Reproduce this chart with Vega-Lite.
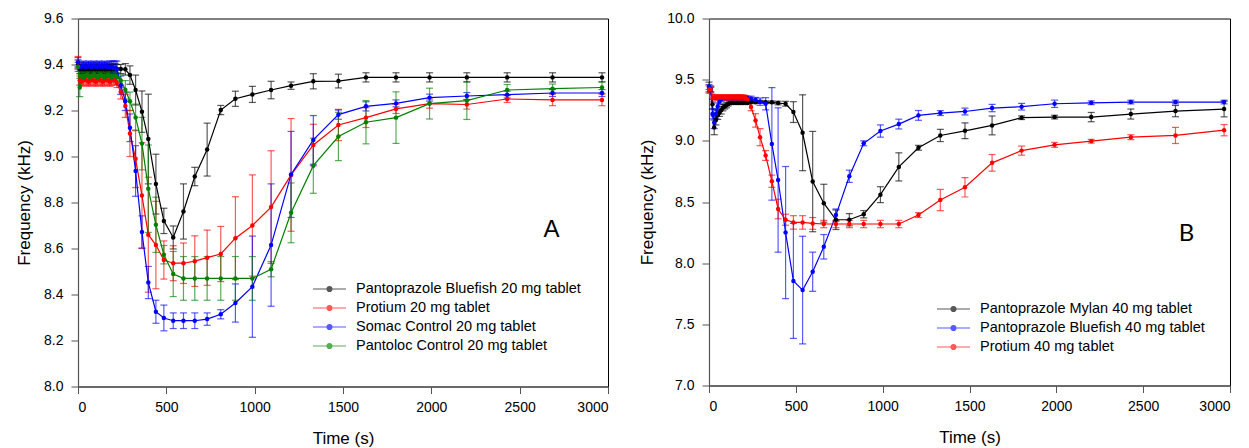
{
  "$schema": "https://vega.github.io/schema/vega-lite/v6.json",
  "padding": {"left": 15, "top": 10.5, "right": 0, "bottom": 0},
  "spacing": 29,
  "config": {
    "font": "Liberation Sans",
    "view": {"stroke": "#000", "strokeWidth": 1},
    "axis": {"grid": false, "domainColor": "#555", "domainWidth": 1.2, "tickColor": "#555", "tickSize": 7, "labelFontSize": 14, "titleFontSize": 17, "titleFontWeight": "normal", "labelColor": "#000", "titleColor": "#000"},
    "axisX": {"labelPadding": 7, "titlePadding": 16},
    "axisY": {"labelPadding": 8, "titlePadding": 10},
    "legend": {"orient": "none", "title": null, "labelFontSize": 14.5, "labelColor": "#000", "labelLimit": 0, "symbolType": "M-1,0L1,0M-0.15,0A0.15,0.15,0,1,0,0.15,0A0.15,0.15,0,1,0,-0.15,0Z", "symbolSize": 1089, "symbolStrokeWidth": 1.2, "clipHeight": 19, "rowPadding": 0, "padding": 0, "labelOffset": 9}
  },
  "datasets": {
    "A": [
      {"s":"Pantoprazole Bluefish 20 mg tablet","t":0,"f":9.40,"e":0.02},
      {"s":"Pantoprazole Bluefish 20 mg tablet","t":10,"f":9.38,"e":0.02},
      {"s":"Pantoprazole Bluefish 20 mg tablet","t":20,"f":9.38,"e":0.02},
      {"s":"Pantoprazole Bluefish 20 mg tablet","t":30,"f":9.385,"e":0.02},
      {"s":"Pantoprazole Bluefish 20 mg tablet","t":40,"f":9.38,"e":0.02},
      {"s":"Pantoprazole Bluefish 20 mg tablet","t":50,"f":9.38,"e":0.02},
      {"s":"Pantoprazole Bluefish 20 mg tablet","t":60,"f":9.385,"e":0.02},
      {"s":"Pantoprazole Bluefish 20 mg tablet","t":70,"f":9.38,"e":0.02},
      {"s":"Pantoprazole Bluefish 20 mg tablet","t":80,"f":9.38,"e":0.02},
      {"s":"Pantoprazole Bluefish 20 mg tablet","t":90,"f":9.385,"e":0.02},
      {"s":"Pantoprazole Bluefish 20 mg tablet","t":100,"f":9.38,"e":0.02},
      {"s":"Pantoprazole Bluefish 20 mg tablet","t":110,"f":9.38,"e":0.02},
      {"s":"Pantoprazole Bluefish 20 mg tablet","t":120,"f":9.385,"e":0.02},
      {"s":"Pantoprazole Bluefish 20 mg tablet","t":130,"f":9.38,"e":0.02},
      {"s":"Pantoprazole Bluefish 20 mg tablet","t":140,"f":9.38,"e":0.02},
      {"s":"Pantoprazole Bluefish 20 mg tablet","t":150,"f":9.385,"e":0.02},
      {"s":"Pantoprazole Bluefish 20 mg tablet","t":160,"f":9.38,"e":0.02},
      {"s":"Pantoprazole Bluefish 20 mg tablet","t":170,"f":9.38,"e":0.02},
      {"s":"Pantoprazole Bluefish 20 mg tablet","t":180,"f":9.385,"e":0.02},
      {"s":"Pantoprazole Bluefish 20 mg tablet","t":190,"f":9.38,"e":0.02},
      {"s":"Pantoprazole Bluefish 20 mg tablet","t":200,"f":9.38,"e":0.02},
      {"s":"Pantoprazole Bluefish 20 mg tablet","t":210,"f":9.385,"e":0.02},
      {"s":"Pantoprazole Bluefish 20 mg tablet","t":220,"f":9.38,"e":0.02},
      {"s":"Pantoprazole Bluefish 20 mg tablet","t":242,"f":9.38,"e":0.02},
      {"s":"Pantoprazole Bluefish 20 mg tablet","t":268,"f":9.379,"e":0.025},
      {"s":"Pantoprazole Bluefish 20 mg tablet","t":294,"f":9.354,"e":0.04},
      {"s":"Pantoprazole Bluefish 20 mg tablet","t":326,"f":9.289,"e":0.065},
      {"s":"Pantoprazole Bluefish 20 mg tablet","t":362,"f":9.195,"e":0.09},
      {"s":"Pantoprazole Bluefish 20 mg tablet","t":398,"f":9.076,"e":0.195},
      {"s":"Pantoprazole Bluefish 20 mg tablet","t":441,"f":8.88,"e":0.13},
      {"s":"Pantoprazole Bluefish 20 mg tablet","t":486,"f":8.72,"e":0.055},
      {"s":"Pantoprazole Bluefish 20 mg tablet","t":539,"f":8.648,"e":0.05},
      {"s":"Pantoprazole Bluefish 20 mg tablet","t":597,"f":8.761,"e":0.12},
      {"s":"Pantoprazole Bluefish 20 mg tablet","t":661,"f":8.913,"e":0.04},
      {"s":"Pantoprazole Bluefish 20 mg tablet","t":731,"f":9.03,"e":0.115},
      {"s":"Pantoprazole Bluefish 20 mg tablet","t":808,"f":9.202,"e":0.02},
      {"s":"Pantoprazole Bluefish 20 mg tablet","t":891,"f":9.251,"e":0.033},
      {"s":"Pantoprazole Bluefish 20 mg tablet","t":987,"f":9.27,"e":0.035},
      {"s":"Pantoprazole Bluefish 20 mg tablet","t":1093,"f":9.289,"e":0.038},
      {"s":"Pantoprazole Bluefish 20 mg tablet","t":1206,"f":9.308,"e":0.016},
      {"s":"Pantoprazole Bluefish 20 mg tablet","t":1332,"f":9.327,"e":0.033},
      {"s":"Pantoprazole Bluefish 20 mg tablet","t":1474,"f":9.328,"e":0.03},
      {"s":"Pantoprazole Bluefish 20 mg tablet","t":1630,"f":9.344,"e":0.02},
      {"s":"Pantoprazole Bluefish 20 mg tablet","t":1800,"f":9.344,"e":0.02},
      {"s":"Pantoprazole Bluefish 20 mg tablet","t":1990,"f":9.344,"e":0.02},
      {"s":"Pantoprazole Bluefish 20 mg tablet","t":2201,"f":9.344,"e":0.02},
      {"s":"Pantoprazole Bluefish 20 mg tablet","t":2429,"f":9.344,"e":0.02},
      {"s":"Pantoprazole Bluefish 20 mg tablet","t":2686,"f":9.344,"e":0.02},
      {"s":"Pantoprazole Bluefish 20 mg tablet","t":2966,"f":9.344,"e":0.02},
      {"s":"Protium 20 mg tablet","t":0,"f":9.41,"e":0.025},
      {"s":"Protium 20 mg tablet","t":10,"f":9.33,"e":0.02},
      {"s":"Protium 20 mg tablet","t":20,"f":9.325,"e":0.02},
      {"s":"Protium 20 mg tablet","t":30,"f":9.33,"e":0.02},
      {"s":"Protium 20 mg tablet","t":40,"f":9.335,"e":0.02},
      {"s":"Protium 20 mg tablet","t":50,"f":9.33,"e":0.02},
      {"s":"Protium 20 mg tablet","t":60,"f":9.325,"e":0.02},
      {"s":"Protium 20 mg tablet","t":70,"f":9.33,"e":0.02},
      {"s":"Protium 20 mg tablet","t":80,"f":9.335,"e":0.02},
      {"s":"Protium 20 mg tablet","t":90,"f":9.33,"e":0.02},
      {"s":"Protium 20 mg tablet","t":100,"f":9.325,"e":0.02},
      {"s":"Protium 20 mg tablet","t":110,"f":9.33,"e":0.02},
      {"s":"Protium 20 mg tablet","t":120,"f":9.335,"e":0.02},
      {"s":"Protium 20 mg tablet","t":130,"f":9.33,"e":0.02},
      {"s":"Protium 20 mg tablet","t":140,"f":9.325,"e":0.02},
      {"s":"Protium 20 mg tablet","t":150,"f":9.33,"e":0.02},
      {"s":"Protium 20 mg tablet","t":160,"f":9.335,"e":0.02},
      {"s":"Protium 20 mg tablet","t":170,"f":9.33,"e":0.02},
      {"s":"Protium 20 mg tablet","t":180,"f":9.325,"e":0.02},
      {"s":"Protium 20 mg tablet","t":190,"f":9.33,"e":0.02},
      {"s":"Protium 20 mg tablet","t":200,"f":9.335,"e":0.02},
      {"s":"Protium 20 mg tablet","t":210,"f":9.33,"e":0.02},
      {"s":"Protium 20 mg tablet","t":220,"f":9.32,"e":0.02},
      {"s":"Protium 20 mg tablet","t":242,"f":9.28,"e":0.03},
      {"s":"Protium 20 mg tablet","t":268,"f":9.22,"e":0.05},
      {"s":"Protium 20 mg tablet","t":294,"f":9.10,"e":0.1},
      {"s":"Protium 20 mg tablet","t":326,"f":8.99,"e":0.125},
      {"s":"Protium 20 mg tablet","t":362,"f":8.83,"e":0.23},
      {"s":"Protium 20 mg tablet","t":398,"f":8.66,"e":0.25},
      {"s":"Protium 20 mg tablet","t":441,"f":8.615,"e":0.19},
      {"s":"Protium 20 mg tablet","t":486,"f":8.55,"e":0.083},
      {"s":"Protium 20 mg tablet","t":539,"f":8.536,"e":0.076},
      {"s":"Protium 20 mg tablet","t":597,"f":8.536,"e":0.088},
      {"s":"Protium 20 mg tablet","t":661,"f":8.545,"e":0.11},
      {"s":"Protium 20 mg tablet","t":731,"f":8.56,"e":0.12},
      {"s":"Protium 20 mg tablet","t":808,"f":8.576,"e":0.12},
      {"s":"Protium 20 mg tablet","t":891,"f":8.645,"e":0.18},
      {"s":"Protium 20 mg tablet","t":987,"f":8.70,"e":0.22},
      {"s":"Protium 20 mg tablet","t":1093,"f":8.78,"e":0.245},
      {"s":"Protium 20 mg tablet","t":1206,"f":8.92,"e":0.245},
      {"s":"Protium 20 mg tablet","t":1332,"f":9.05,"e":0.09},
      {"s":"Protium 20 mg tablet","t":1474,"f":9.137,"e":0.068},
      {"s":"Protium 20 mg tablet","t":1630,"f":9.169,"e":0.043},
      {"s":"Protium 20 mg tablet","t":1800,"f":9.207,"e":0.02},
      {"s":"Protium 20 mg tablet","t":1990,"f":9.23,"e":0.02},
      {"s":"Protium 20 mg tablet","t":2201,"f":9.226,"e":0.02},
      {"s":"Protium 20 mg tablet","t":2429,"f":9.25,"e":0.015},
      {"s":"Protium 20 mg tablet","t":2686,"f":9.246,"e":0.025},
      {"s":"Protium 20 mg tablet","t":2966,"f":9.246,"e":0.025},
      {"s":"Somac Control 20 mg tablet","t":0,"f":9.41,"e":0.02},
      {"s":"Somac Control 20 mg tablet","t":10,"f":9.39,"e":0.02},
      {"s":"Somac Control 20 mg tablet","t":20,"f":9.39,"e":0.02},
      {"s":"Somac Control 20 mg tablet","t":30,"f":9.395,"e":0.02},
      {"s":"Somac Control 20 mg tablet","t":40,"f":9.39,"e":0.02},
      {"s":"Somac Control 20 mg tablet","t":50,"f":9.39,"e":0.02},
      {"s":"Somac Control 20 mg tablet","t":60,"f":9.395,"e":0.02},
      {"s":"Somac Control 20 mg tablet","t":70,"f":9.39,"e":0.02},
      {"s":"Somac Control 20 mg tablet","t":80,"f":9.39,"e":0.02},
      {"s":"Somac Control 20 mg tablet","t":90,"f":9.395,"e":0.02},
      {"s":"Somac Control 20 mg tablet","t":100,"f":9.39,"e":0.02},
      {"s":"Somac Control 20 mg tablet","t":110,"f":9.39,"e":0.02},
      {"s":"Somac Control 20 mg tablet","t":120,"f":9.395,"e":0.02},
      {"s":"Somac Control 20 mg tablet","t":130,"f":9.39,"e":0.02},
      {"s":"Somac Control 20 mg tablet","t":140,"f":9.39,"e":0.02},
      {"s":"Somac Control 20 mg tablet","t":150,"f":9.395,"e":0.02},
      {"s":"Somac Control 20 mg tablet","t":160,"f":9.39,"e":0.02},
      {"s":"Somac Control 20 mg tablet","t":170,"f":9.39,"e":0.02},
      {"s":"Somac Control 20 mg tablet","t":180,"f":9.39,"e":0.025},
      {"s":"Somac Control 20 mg tablet","t":190,"f":9.39,"e":0.025},
      {"s":"Somac Control 20 mg tablet","t":200,"f":9.385,"e":0.03},
      {"s":"Somac Control 20 mg tablet","t":210,"f":9.385,"e":0.03},
      {"s":"Somac Control 20 mg tablet","t":220,"f":9.38,"e":0.035},
      {"s":"Somac Control 20 mg tablet","t":242,"f":9.31,"e":0.04},
      {"s":"Somac Control 20 mg tablet","t":268,"f":9.24,"e":0.04},
      {"s":"Somac Control 20 mg tablet","t":294,"f":9.125,"e":0.06},
      {"s":"Somac Control 20 mg tablet","t":326,"f":8.937,"e":0.11},
      {"s":"Somac Control 20 mg tablet","t":362,"f":8.672,"e":0.07},
      {"s":"Somac Control 20 mg tablet","t":398,"f":8.452,"e":0.07},
      {"s":"Somac Control 20 mg tablet","t":441,"f":8.325,"e":0.05},
      {"s":"Somac Control 20 mg tablet","t":486,"f":8.298,"e":0.056},
      {"s":"Somac Control 20 mg tablet","t":539,"f":8.286,"e":0.034},
      {"s":"Somac Control 20 mg tablet","t":597,"f":8.286,"e":0.034},
      {"s":"Somac Control 20 mg tablet","t":661,"f":8.286,"e":0.034},
      {"s":"Somac Control 20 mg tablet","t":731,"f":8.293,"e":0.027},
      {"s":"Somac Control 20 mg tablet","t":808,"f":8.314,"e":0.02},
      {"s":"Somac Control 20 mg tablet","t":891,"f":8.363,"e":0.083},
      {"s":"Somac Control 20 mg tablet","t":987,"f":8.434,"e":0.22},
      {"s":"Somac Control 20 mg tablet","t":1093,"f":8.615,"e":0.266},
      {"s":"Somac Control 20 mg tablet","t":1206,"f":8.922,"e":0.187},
      {"s":"Somac Control 20 mg tablet","t":1332,"f":9.072,"e":0.106},
      {"s":"Somac Control 20 mg tablet","t":1474,"f":9.182,"e":0.02},
      {"s":"Somac Control 20 mg tablet","t":1630,"f":9.218,"e":0.02},
      {"s":"Somac Control 20 mg tablet","t":1800,"f":9.231,"e":0.015},
      {"s":"Somac Control 20 mg tablet","t":1990,"f":9.256,"e":0.015},
      {"s":"Somac Control 20 mg tablet","t":2201,"f":9.263,"e":0.015},
      {"s":"Somac Control 20 mg tablet","t":2429,"f":9.269,"e":0.015},
      {"s":"Somac Control 20 mg tablet","t":2686,"f":9.276,"e":0.015},
      {"s":"Somac Control 20 mg tablet","t":2966,"f":9.276,"e":0.015},
      {"s":"Pantoloc Control 20 mg tablet","t":0,"f":9.39,"e":0.02},
      {"s":"Pantoloc Control 20 mg tablet","t":10,"f":9.30,"e":0.04},
      {"s":"Pantoloc Control 20 mg tablet","t":20,"f":9.35,"e":0.02},
      {"s":"Pantoloc Control 20 mg tablet","t":30,"f":9.345,"e":0.02},
      {"s":"Pantoloc Control 20 mg tablet","t":40,"f":9.35,"e":0.02},
      {"s":"Pantoloc Control 20 mg tablet","t":50,"f":9.355,"e":0.02},
      {"s":"Pantoloc Control 20 mg tablet","t":60,"f":9.35,"e":0.02},
      {"s":"Pantoloc Control 20 mg tablet","t":70,"f":9.345,"e":0.02},
      {"s":"Pantoloc Control 20 mg tablet","t":80,"f":9.35,"e":0.02},
      {"s":"Pantoloc Control 20 mg tablet","t":90,"f":9.355,"e":0.02},
      {"s":"Pantoloc Control 20 mg tablet","t":100,"f":9.35,"e":0.02},
      {"s":"Pantoloc Control 20 mg tablet","t":110,"f":9.345,"e":0.02},
      {"s":"Pantoloc Control 20 mg tablet","t":120,"f":9.35,"e":0.02},
      {"s":"Pantoloc Control 20 mg tablet","t":130,"f":9.355,"e":0.02},
      {"s":"Pantoloc Control 20 mg tablet","t":140,"f":9.35,"e":0.02},
      {"s":"Pantoloc Control 20 mg tablet","t":150,"f":9.345,"e":0.02},
      {"s":"Pantoloc Control 20 mg tablet","t":160,"f":9.35,"e":0.02},
      {"s":"Pantoloc Control 20 mg tablet","t":170,"f":9.355,"e":0.02},
      {"s":"Pantoloc Control 20 mg tablet","t":180,"f":9.35,"e":0.02},
      {"s":"Pantoloc Control 20 mg tablet","t":190,"f":9.345,"e":0.02},
      {"s":"Pantoloc Control 20 mg tablet","t":200,"f":9.35,"e":0.02},
      {"s":"Pantoloc Control 20 mg tablet","t":210,"f":9.35,"e":0.02},
      {"s":"Pantoloc Control 20 mg tablet","t":220,"f":9.345,"e":0.02},
      {"s":"Pantoloc Control 20 mg tablet","t":242,"f":9.33,"e":0.03},
      {"s":"Pantoloc Control 20 mg tablet","t":268,"f":9.29,"e":0.04},
      {"s":"Pantoloc Control 20 mg tablet","t":294,"f":9.24,"e":0.04},
      {"s":"Pantoloc Control 20 mg tablet","t":326,"f":9.17,"e":0.058},
      {"s":"Pantoloc Control 20 mg tablet","t":362,"f":9.056,"e":0.114},
      {"s":"Pantoloc Control 20 mg tablet","t":398,"f":8.86,"e":0.19},
      {"s":"Pantoloc Control 20 mg tablet","t":441,"f":8.703,"e":0.12},
      {"s":"Pantoloc Control 20 mg tablet","t":486,"f":8.573,"e":0.04},
      {"s":"Pantoloc Control 20 mg tablet","t":539,"f":8.489,"e":0.098},
      {"s":"Pantoloc Control 20 mg tablet","t":597,"f":8.47,"e":0.095},
      {"s":"Pantoloc Control 20 mg tablet","t":661,"f":8.47,"e":0.095},
      {"s":"Pantoloc Control 20 mg tablet","t":731,"f":8.47,"e":0.095},
      {"s":"Pantoloc Control 20 mg tablet","t":808,"f":8.47,"e":0.095},
      {"s":"Pantoloc Control 20 mg tablet","t":891,"f":8.47,"e":0.095},
      {"s":"Pantoloc Control 20 mg tablet","t":987,"f":8.47,"e":0.095},
      {"s":"Pantoloc Control 20 mg tablet","t":1093,"f":8.51,"e":0.033},
      {"s":"Pantoloc Control 20 mg tablet","t":1206,"f":8.755,"e":0.13},
      {"s":"Pantoloc Control 20 mg tablet","t":1332,"f":8.96,"e":0.12},
      {"s":"Pantoloc Control 20 mg tablet","t":1474,"f":9.087,"e":0.105},
      {"s":"Pantoloc Control 20 mg tablet","t":1630,"f":9.149,"e":0.094},
      {"s":"Pantoloc Control 20 mg tablet","t":1800,"f":9.169,"e":0.112},
      {"s":"Pantoloc Control 20 mg tablet","t":1990,"f":9.23,"e":0.067},
      {"s":"Pantoloc Control 20 mg tablet","t":2201,"f":9.243,"e":0.082},
      {"s":"Pantoloc Control 20 mg tablet","t":2429,"f":9.289,"e":0.024},
      {"s":"Pantoloc Control 20 mg tablet","t":2686,"f":9.295,"e":0.02},
      {"s":"Pantoloc Control 20 mg tablet","t":2966,"f":9.30,"e":0.025}
    ],
    "B": [
      {"s":"Pantoprazole Mylan 40 mg tablet","t":0,"f":9.44,"e":0.04},
      {"s":"Pantoprazole Mylan 40 mg tablet","t":10,"f":9.42,"e":0.02},
      {"s":"Pantoprazole Mylan 40 mg tablet","t":20,"f":9.30,"e":0.04},
      {"s":"Pantoprazole Mylan 40 mg tablet","t":30,"f":9.11,"e":0.06},
      {"s":"Pantoprazole Mylan 40 mg tablet","t":40,"f":9.17,"e":0.04},
      {"s":"Pantoprazole Mylan 40 mg tablet","t":50,"f":9.21,"e":0.035},
      {"s":"Pantoprazole Mylan 40 mg tablet","t":60,"f":9.23,"e":0.03},
      {"s":"Pantoprazole Mylan 40 mg tablet","t":70,"f":9.25,"e":0.03},
      {"s":"Pantoprazole Mylan 40 mg tablet","t":80,"f":9.27,"e":0.025},
      {"s":"Pantoprazole Mylan 40 mg tablet","t":90,"f":9.28,"e":0.02},
      {"s":"Pantoprazole Mylan 40 mg tablet","t":100,"f":9.29,"e":0.02},
      {"s":"Pantoprazole Mylan 40 mg tablet","t":110,"f":9.30,"e":0.015},
      {"s":"Pantoprazole Mylan 40 mg tablet","t":120,"f":9.31,"e":0.01},
      {"s":"Pantoprazole Mylan 40 mg tablet","t":130,"f":9.31,"e":0.01},
      {"s":"Pantoprazole Mylan 40 mg tablet","t":140,"f":9.31,"e":0.01},
      {"s":"Pantoprazole Mylan 40 mg tablet","t":150,"f":9.31,"e":0.01},
      {"s":"Pantoprazole Mylan 40 mg tablet","t":160,"f":9.31,"e":0.01},
      {"s":"Pantoprazole Mylan 40 mg tablet","t":170,"f":9.31,"e":0.01},
      {"s":"Pantoprazole Mylan 40 mg tablet","t":180,"f":9.31,"e":0.01},
      {"s":"Pantoprazole Mylan 40 mg tablet","t":190,"f":9.31,"e":0.01},
      {"s":"Pantoprazole Mylan 40 mg tablet","t":200,"f":9.31,"e":0.01},
      {"s":"Pantoprazole Mylan 40 mg tablet","t":210,"f":9.31,"e":0.01},
      {"s":"Pantoprazole Mylan 40 mg tablet","t":220,"f":9.31,"e":0.01},
      {"s":"Pantoprazole Mylan 40 mg tablet","t":242,"f":9.315,"e":0.01},
      {"s":"Pantoprazole Mylan 40 mg tablet","t":268,"f":9.315,"e":0.01},
      {"s":"Pantoprazole Mylan 40 mg tablet","t":294,"f":9.32,"e":0.01},
      {"s":"Pantoprazole Mylan 40 mg tablet","t":326,"f":9.315,"e":0.01},
      {"s":"Pantoprazole Mylan 40 mg tablet","t":362,"f":9.315,"e":0.01},
      {"s":"Pantoprazole Mylan 40 mg tablet","t":398,"f":9.309,"e":0.015},
      {"s":"Pantoprazole Mylan 40 mg tablet","t":441,"f":9.303,"e":0.02},
      {"s":"Pantoprazole Mylan 40 mg tablet","t":486,"f":9.235,"e":0.085},
      {"s":"Pantoprazole Mylan 40 mg tablet","t":539,"f":9.066,"e":0.31},
      {"s":"Pantoprazole Mylan 40 mg tablet","t":597,"f":8.667,"e":0.41},
      {"s":"Pantoprazole Mylan 40 mg tablet","t":661,"f":8.49,"e":0.155},
      {"s":"Pantoprazole Mylan 40 mg tablet","t":731,"f":8.355,"e":0.08},
      {"s":"Pantoprazole Mylan 40 mg tablet","t":808,"f":8.355,"e":0.05},
      {"s":"Pantoprazole Mylan 40 mg tablet","t":891,"f":8.40,"e":0.03},
      {"s":"Pantoprazole Mylan 40 mg tablet","t":987,"f":8.56,"e":0.065},
      {"s":"Pantoprazole Mylan 40 mg tablet","t":1093,"f":8.787,"e":0.115},
      {"s":"Pantoprazole Mylan 40 mg tablet","t":1206,"f":8.943,"e":0.02},
      {"s":"Pantoprazole Mylan 40 mg tablet","t":1332,"f":9.044,"e":0.05},
      {"s":"Pantoprazole Mylan 40 mg tablet","t":1474,"f":9.082,"e":0.064},
      {"s":"Pantoprazole Mylan 40 mg tablet","t":1630,"f":9.126,"e":0.077},
      {"s":"Pantoprazole Mylan 40 mg tablet","t":1800,"f":9.189,"e":0.015},
      {"s":"Pantoprazole Mylan 40 mg tablet","t":1990,"f":9.194,"e":0.015},
      {"s":"Pantoprazole Mylan 40 mg tablet","t":2201,"f":9.194,"e":0.038},
      {"s":"Pantoprazole Mylan 40 mg tablet","t":2429,"f":9.219,"e":0.041},
      {"s":"Pantoprazole Mylan 40 mg tablet","t":2686,"f":9.243,"e":0.046},
      {"s":"Pantoprazole Mylan 40 mg tablet","t":2966,"f":9.26,"e":0.064},
      {"s":"Pantoprazole Bluefish 40 mg tablet","t":0,"f":9.44,"e":0.02},
      {"s":"Pantoprazole Bluefish 40 mg tablet","t":10,"f":9.42,"e":0.02},
      {"s":"Pantoprazole Bluefish 40 mg tablet","t":20,"f":9.22,"e":0.04},
      {"s":"Pantoprazole Bluefish 40 mg tablet","t":30,"f":9.15,"e":0.05},
      {"s":"Pantoprazole Bluefish 40 mg tablet","t":40,"f":9.22,"e":0.04},
      {"s":"Pantoprazole Bluefish 40 mg tablet","t":50,"f":9.28,"e":0.03},
      {"s":"Pantoprazole Bluefish 40 mg tablet","t":60,"f":9.32,"e":0.02},
      {"s":"Pantoprazole Bluefish 40 mg tablet","t":70,"f":9.34,"e":0.02},
      {"s":"Pantoprazole Bluefish 40 mg tablet","t":80,"f":9.35,"e":0.015},
      {"s":"Pantoprazole Bluefish 40 mg tablet","t":90,"f":9.35,"e":0.015},
      {"s":"Pantoprazole Bluefish 40 mg tablet","t":100,"f":9.35,"e":0.015},
      {"s":"Pantoprazole Bluefish 40 mg tablet","t":110,"f":9.35,"e":0.015},
      {"s":"Pantoprazole Bluefish 40 mg tablet","t":120,"f":9.35,"e":0.015},
      {"s":"Pantoprazole Bluefish 40 mg tablet","t":130,"f":9.35,"e":0.015},
      {"s":"Pantoprazole Bluefish 40 mg tablet","t":140,"f":9.35,"e":0.015},
      {"s":"Pantoprazole Bluefish 40 mg tablet","t":150,"f":9.35,"e":0.015},
      {"s":"Pantoprazole Bluefish 40 mg tablet","t":160,"f":9.35,"e":0.015},
      {"s":"Pantoprazole Bluefish 40 mg tablet","t":170,"f":9.35,"e":0.015},
      {"s":"Pantoprazole Bluefish 40 mg tablet","t":180,"f":9.35,"e":0.015},
      {"s":"Pantoprazole Bluefish 40 mg tablet","t":190,"f":9.35,"e":0.015},
      {"s":"Pantoprazole Bluefish 40 mg tablet","t":200,"f":9.35,"e":0.015},
      {"s":"Pantoprazole Bluefish 40 mg tablet","t":210,"f":9.35,"e":0.015},
      {"s":"Pantoprazole Bluefish 40 mg tablet","t":220,"f":9.35,"e":0.015},
      {"s":"Pantoprazole Bluefish 40 mg tablet","t":242,"f":9.345,"e":0.02},
      {"s":"Pantoprazole Bluefish 40 mg tablet","t":268,"f":9.335,"e":0.02},
      {"s":"Pantoprazole Bluefish 40 mg tablet","t":294,"f":9.32,"e":0.03},
      {"s":"Pantoprazole Bluefish 40 mg tablet","t":326,"f":9.303,"e":0.05},
      {"s":"Pantoprazole Bluefish 40 mg tablet","t":362,"f":8.975,"e":0.46},
      {"s":"Pantoprazole Bluefish 40 mg tablet","t":398,"f":8.68,"e":0.59},
      {"s":"Pantoprazole Bluefish 40 mg tablet","t":441,"f":8.25,"e":0.54},
      {"s":"Pantoprazole Bluefish 40 mg tablet","t":486,"f":7.855,"e":0.47},
      {"s":"Pantoprazole Bluefish 40 mg tablet","t":539,"f":7.78,"e":0.44},
      {"s":"Pantoprazole Bluefish 40 mg tablet","t":597,"f":7.93,"e":0.16},
      {"s":"Pantoprazole Bluefish 40 mg tablet","t":661,"f":8.134,"e":0.1},
      {"s":"Pantoprazole Bluefish 40 mg tablet","t":731,"f":8.393,"e":0.05},
      {"s":"Pantoprazole Bluefish 40 mg tablet","t":808,"f":8.71,"e":0.05},
      {"s":"Pantoprazole Bluefish 40 mg tablet","t":891,"f":8.98,"e":0.02},
      {"s":"Pantoprazole Bluefish 40 mg tablet","t":987,"f":9.08,"e":0.05},
      {"s":"Pantoprazole Bluefish 40 mg tablet","t":1093,"f":9.137,"e":0.04},
      {"s":"Pantoprazole Bluefish 40 mg tablet","t":1206,"f":9.208,"e":0.04},
      {"s":"Pantoprazole Bluefish 40 mg tablet","t":1332,"f":9.227,"e":0.02},
      {"s":"Pantoprazole Bluefish 40 mg tablet","t":1474,"f":9.24,"e":0.027},
      {"s":"Pantoprazole Bluefish 40 mg tablet","t":1630,"f":9.268,"e":0.03},
      {"s":"Pantoprazole Bluefish 40 mg tablet","t":1800,"f":9.279,"e":0.027},
      {"s":"Pantoprazole Bluefish 40 mg tablet","t":1990,"f":9.303,"e":0.03},
      {"s":"Pantoprazole Bluefish 40 mg tablet","t":2201,"f":9.311,"e":0.015},
      {"s":"Pantoprazole Bluefish 40 mg tablet","t":2429,"f":9.317,"e":0.015},
      {"s":"Pantoprazole Bluefish 40 mg tablet","t":2686,"f":9.317,"e":0.015},
      {"s":"Pantoprazole Bluefish 40 mg tablet","t":2966,"f":9.317,"e":0.015},
      {"s":"Protium 40 mg tablet","t":0,"f":9.42,"e":0.03},
      {"s":"Protium 40 mg tablet","t":10,"f":9.42,"e":0.03},
      {"s":"Protium 40 mg tablet","t":20,"f":9.35,"e":0.03},
      {"s":"Protium 40 mg tablet","t":30,"f":9.355,"e":0.02},
      {"s":"Protium 40 mg tablet","t":40,"f":9.355,"e":0.02},
      {"s":"Protium 40 mg tablet","t":50,"f":9.355,"e":0.02},
      {"s":"Protium 40 mg tablet","t":60,"f":9.355,"e":0.02},
      {"s":"Protium 40 mg tablet","t":70,"f":9.355,"e":0.02},
      {"s":"Protium 40 mg tablet","t":80,"f":9.355,"e":0.02},
      {"s":"Protium 40 mg tablet","t":90,"f":9.355,"e":0.02},
      {"s":"Protium 40 mg tablet","t":100,"f":9.355,"e":0.02},
      {"s":"Protium 40 mg tablet","t":110,"f":9.355,"e":0.02},
      {"s":"Protium 40 mg tablet","t":120,"f":9.355,"e":0.02},
      {"s":"Protium 40 mg tablet","t":130,"f":9.355,"e":0.02},
      {"s":"Protium 40 mg tablet","t":140,"f":9.355,"e":0.02},
      {"s":"Protium 40 mg tablet","t":150,"f":9.355,"e":0.02},
      {"s":"Protium 40 mg tablet","t":160,"f":9.355,"e":0.02},
      {"s":"Protium 40 mg tablet","t":170,"f":9.355,"e":0.02},
      {"s":"Protium 40 mg tablet","t":180,"f":9.355,"e":0.02},
      {"s":"Protium 40 mg tablet","t":190,"f":9.355,"e":0.02},
      {"s":"Protium 40 mg tablet","t":200,"f":9.355,"e":0.02},
      {"s":"Protium 40 mg tablet","t":210,"f":9.35,"e":0.02},
      {"s":"Protium 40 mg tablet","t":220,"f":9.34,"e":0.02},
      {"s":"Protium 40 mg tablet","t":242,"f":9.276,"e":0.03},
      {"s":"Protium 40 mg tablet","t":268,"f":9.167,"e":0.055},
      {"s":"Protium 40 mg tablet","t":294,"f":9.03,"e":0.07},
      {"s":"Protium 40 mg tablet","t":326,"f":8.88,"e":0.04},
      {"s":"Protium 40 mg tablet","t":362,"f":8.67,"e":0.05},
      {"s":"Protium 40 mg tablet","t":398,"f":8.443,"e":0.08},
      {"s":"Protium 40 mg tablet","t":441,"f":8.355,"e":0.045},
      {"s":"Protium 40 mg tablet","t":486,"f":8.333,"e":0.055},
      {"s":"Protium 40 mg tablet","t":539,"f":8.333,"e":0.055},
      {"s":"Protium 40 mg tablet","t":597,"f":8.325,"e":0.048},
      {"s":"Protium 40 mg tablet","t":661,"f":8.32,"e":0.03},
      {"s":"Protium 40 mg tablet","t":731,"f":8.32,"e":0.03},
      {"s":"Protium 40 mg tablet","t":808,"f":8.32,"e":0.03},
      {"s":"Protium 40 mg tablet","t":891,"f":8.32,"e":0.03},
      {"s":"Protium 40 mg tablet","t":987,"f":8.32,"e":0.03},
      {"s":"Protium 40 mg tablet","t":1093,"f":8.32,"e":0.03},
      {"s":"Protium 40 mg tablet","t":1206,"f":8.393,"e":0.02},
      {"s":"Protium 40 mg tablet","t":1332,"f":8.516,"e":0.087},
      {"s":"Protium 40 mg tablet","t":1474,"f":8.62,"e":0.079},
      {"s":"Protium 40 mg tablet","t":1630,"f":8.82,"e":0.068},
      {"s":"Protium 40 mg tablet","t":1800,"f":8.92,"e":0.037},
      {"s":"Protium 40 mg tablet","t":1990,"f":8.967,"e":0.02},
      {"s":"Protium 40 mg tablet","t":2201,"f":8.997,"e":0.015},
      {"s":"Protium 40 mg tablet","t":2429,"f":9.03,"e":0.02},
      {"s":"Protium 40 mg tablet","t":2686,"f":9.044,"e":0.066},
      {"s":"Protium 40 mg tablet","t":2966,"f":9.087,"e":0.046}
    ]
  },
  "hconcat": [
    {
      "width": 530,
      "height": 368,
      "layer": [
        {
          "data": {"name": "A"},
          "encoding": {
            "x": {"field": "t", "type": "quantitative", "scale": {"domain": [0, 3000], "nice": false}, "axis": {"title": "Time (s)", "values": [0, 500, 1000, 1500, 2000, 2500, 3000], "format": "d"}},
            "y": {"field": "f", "type": "quantitative", "scale": {"domain": [8.0, 9.6], "nice": false, "zero": false}, "axis": {"title": "Frequency (kHz)", "values": [8.0, 8.2, 8.4, 8.6, 8.8, 9.0, 9.2, 9.4, 9.6], "format": ".1f"}},
            "color": {"field": "s", "type": "nominal", "scale": {"domain": ["Pantoprazole Bluefish 20 mg tablet", "Protium 20 mg tablet", "Somac Control 20 mg tablet", "Pantoloc Control 20 mg tablet"], "range": ["#000000", "#ff0000", "#0000ff", "#008000"]}, "legend": {"legendX": 234, "legendY": 261}}
          },
          "layer": [
            {"mark": {"type": "errorbar", "ticks": {"size": 7}, "thickness": 1.2, "opacity": 0.65}, "encoding": {"yError": {"field": "e"}}},
            {"mark": {"type": "line", "strokeWidth": 1.2}},
            {"mark": {"type": "circle", "size": 20, "opacity": 1}}
          ]
        },
        {
          "data": {"values": [{"label": "A"}]},
          "mark": {"type": "text", "fontSize": 24, "font": "Liberation Sans", "color": "#000"},
          "encoding": {"text": {"field": "label"}, "x": {"datum": 2680, "type": "quantitative"}, "y": {"datum": 8.68, "type": "quantitative"}}
        }
      ]
    },
    {
      "width": 521,
      "height": 367,
      "layer": [
        {
          "data": {"name": "B"},
          "encoding": {
            "x": {"field": "t", "type": "quantitative", "scale": {"domain": [0, 3000], "nice": false}, "axis": {"title": "Time (s)", "values": [0, 500, 1000, 1500, 2000, 2500, 3000], "format": "d"}},
            "y": {"field": "f", "type": "quantitative", "scale": {"domain": [7.0, 10.0], "nice": false, "zero": false}, "axis": {"title": "Frequency (kHz)", "values": [7.0, 7.5, 8.0, 8.5, 9.0, 9.5, 10.0], "format": ".1f"}},
            "color": {"field": "s", "type": "nominal", "scale": {"domain": ["Pantoprazole Mylan 40 mg tablet", "Pantoprazole Bluefish 40 mg tablet", "Protium 40 mg tablet"], "range": ["#000000", "#0000ff", "#ff0000"]}, "legend": {"legendX": 227, "legendY": 281}}
          },
          "layer": [
            {"mark": {"type": "errorbar", "ticks": {"size": 7}, "thickness": 1.2, "opacity": 0.65}, "encoding": {"yError": {"field": "e"}}},
            {"mark": {"type": "line", "strokeWidth": 1.2}},
            {"mark": {"type": "circle", "size": 20, "opacity": 1}}
          ]
        },
        {
          "data": {"values": [{"label": "B"}]},
          "mark": {"type": "text", "fontSize": 24, "font": "Lato", "color": "#000"},
          "encoding": {"text": {"field": "label"}, "x": {"datum": 2750, "type": "quantitative"}, "y": {"datum": 8.24, "type": "quantitative"}}
        }
      ]
    }
  ],
  "resolve": {"scale": {"color": "independent", "x": "independent", "y": "independent"}, "legend": {"color": "independent"}}
}
